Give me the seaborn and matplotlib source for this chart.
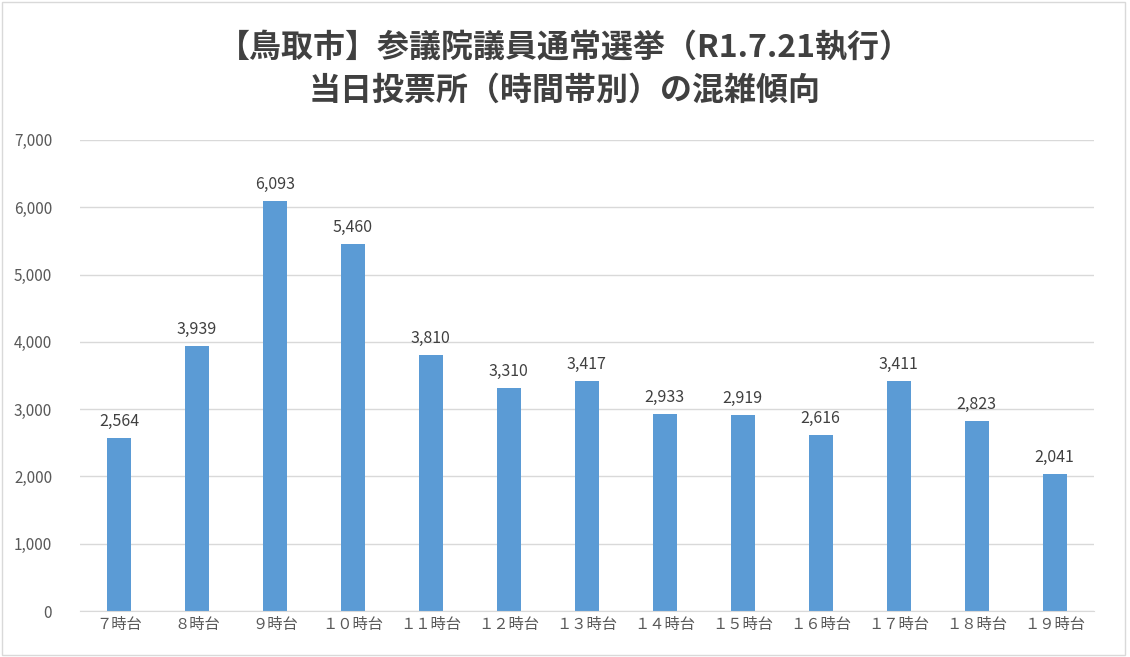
import matplotlib
matplotlib.use("Agg")
import matplotlib.pyplot as plt
import seaborn as sns
import pandas as pd

hours = ["７時台", "８時台", "９時台", "１０時台", "１１時台", "１２時台", "１３時台",
         "１４時台", "１５時台", "１６時台", "１７時台", "１８時台", "１９時台"]
voters = [2564, 3939, 6093, 5460, 3810, 3310, 3417, 2933, 2919, 2616, 3411, 2823, 2041]
yticks = [0, 1000, 2000, 3000, 4000, 5000, 6000, 7000]

plt.rcParams["font.family"] = "Noto Sans CJK JP"
df = pd.DataFrame({"hour": hours, "voters": voters})

fig = plt.figure(figsize=(11.3, 6.57), dpi=100)
ax = fig.add_axes([0.0708, 0.070, 0.897, 0.717])
sns.barplot(data=df, x="hour", y="voters", color="#5B9BD5", saturation=1,
            width=0.31, ax=ax)

ax.set_xlim(-0.5, len(hours) - 0.5)
ax.set_ylim(0, 7000)
ax.set_yticks(yticks)
ax.set_yticklabels([f"{v:,}" for v in yticks])
ax.grid(axis="y", color="#D9D9D9", linewidth=1)
ax.set_axisbelow(True)
for s in ["top", "right", "left"]:
    ax.spines[s].set_visible(False)
ax.spines["bottom"].set_color("#D9D9D9")
ax.tick_params(length=0, colors="#595959", labelsize=11)
ax.tick_params(axis="y", pad=20)
ax.set_xlabel("")
ax.set_ylabel("")

for i, v in enumerate(voters):
    ax.text(i, v + 120, f"{v:,}", ha="center", va="bottom", fontsize=11.5, color="#404040")

fig.text(0.5, 0.894, "【鳥取市】参議院議員通常選挙（R1.7.21執行）\n当日投票所（時間帯別）の混雑傾向",
         ha="center", va="center", fontsize=23, fontweight="bold", color="#404040",
         linespacing=1.45)

fig.patches.append(plt.Rectangle((0.002, 0.003), 0.994, 0.994, transform=fig.transFigure,
                                 fill=False, edgecolor="#D9D9D9", linewidth=1))
fig.savefig("out.png", dpi=100)
